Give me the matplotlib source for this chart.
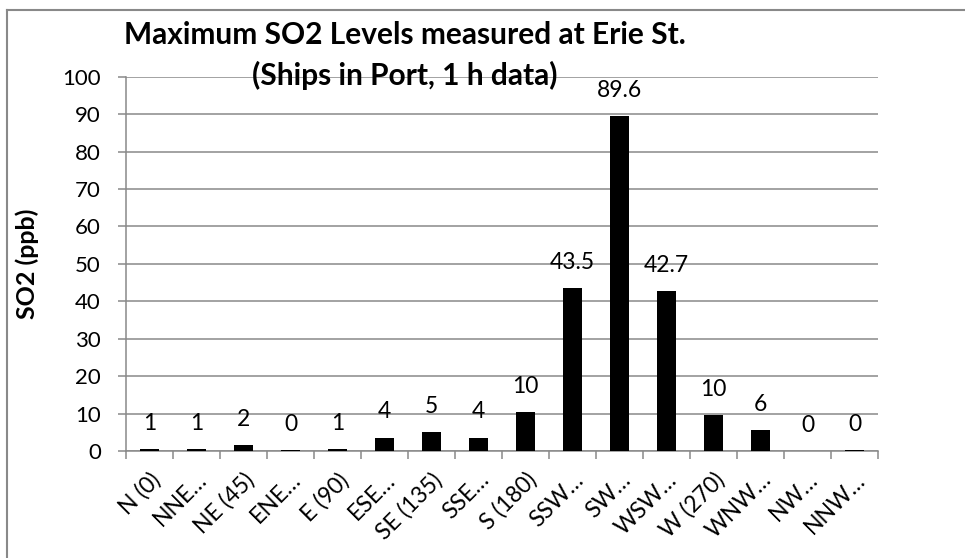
import matplotlib
matplotlib.use('Agg')
import matplotlib.pyplot as plt
from matplotlib.lines import Line2D
import numpy as np

categories = ["N (0)", "NNE…", "NE (45)", "ENE…", "E (90)", "ESE…", "SE (135)", "SSE…",
              "S (180)", "SSW…", "SW…", "WSW…", "W (270)", "WNW…", "NW…", "NNW…"]
values = [0.5, 0.6, 1.5, 0.2, 0.6, 3.6, 5.0, 3.6, 10.3, 43.5, 89.6, 42.7, 9.6, 5.5, 0.0, 0.2]
value_labels = ["1", "1", "2", "0", "1", "4", "5", "4", "10", "43.5", "89.6", "42.7", "10", "6", "0", "0"]
title_line1 = "Maximum SO2 Levels measured at Erie St."
title_line2 = "(Ships in Port, 1 h data)"
y_label = "SO2 (ppb)"
y_ticks = list(range(0, 101, 10))

plt.rcParams['font.family'] = ['Lato', 'DejaVu Sans']

W, H = 965, 558
GRAY = '#898989'
fig = plt.figure(figsize=(W / 100, H / 100), dpi=100)
fig.patch.set_facecolor('white')

ax = fig.add_axes([126 / W, 1 - 451 / H, (878 - 126) / W, (451 - 76.7) / H])
x = np.arange(len(categories))
ax.bar(x, values, width=0.4, color='black', zorder=3)
ax.set_xlim(-0.5, len(categories) - 0.5)
ax.set_ylim(0, 100)
ax.set_yticks(y_ticks)
ax.grid(axis='y', color=GRAY, linewidth=1.1, zorder=0)
ax.set_axisbelow(True)
for s in ['top', 'right']:
    ax.spines[s].set_visible(False)
for s in ['left', 'bottom']:
    ax.spines[s].set_color(GRAY)
    ax.spines[s].set_linewidth(1.1)

ax.set_xticks(x)
ax.set_xticklabels(categories, rotation=45, ha='right', va='top', rotation_mode='anchor', fontsize=16.5)
ax.tick_params(axis='x', which='major', length=0, pad=13)
ax.set_xticks(np.arange(len(categories) + 1) - 0.5, minor=True)
ax.tick_params(axis='x', which='minor', length=6, color=GRAY, width=1.1)
ax.tick_params(axis='y', length=6, color=GRAY, width=1.1, labelsize=16, pad=12)

for xi, v, lab in zip(x, values, value_labels):
    ax.annotate(lab, (xi, v), xytext=(0, 13.7), textcoords='offset points',
                ha='center', va='baseline', fontsize=16.5, zorder=4)

ax.set_ylabel(y_label, fontsize=18, fontweight='bold')
ax.yaxis.set_label_coords((39 - 126) / 752, 0.5)

fig.text(405 / W, 1 - 44 / H, title_line1, ha='center', va='baseline', fontsize=21.5, fontweight='bold')
fig.text(405 / W, 1 - 85 / H, title_line2, ha='center', va='baseline', fontsize=21.5, fontweight='bold')

fig.add_artist(Line2D([6.7 / W, 6.7 / W], [0, 1 - 10 / H], color=GRAY, lw=1.5, transform=fig.transFigure))
fig.add_artist(Line2D([6.7 / W, 1], [1 - 10 / H, 1 - 10 / H], color=GRAY, lw=1.5, transform=fig.transFigure))

fig.savefig('out.png', dpi=100)
